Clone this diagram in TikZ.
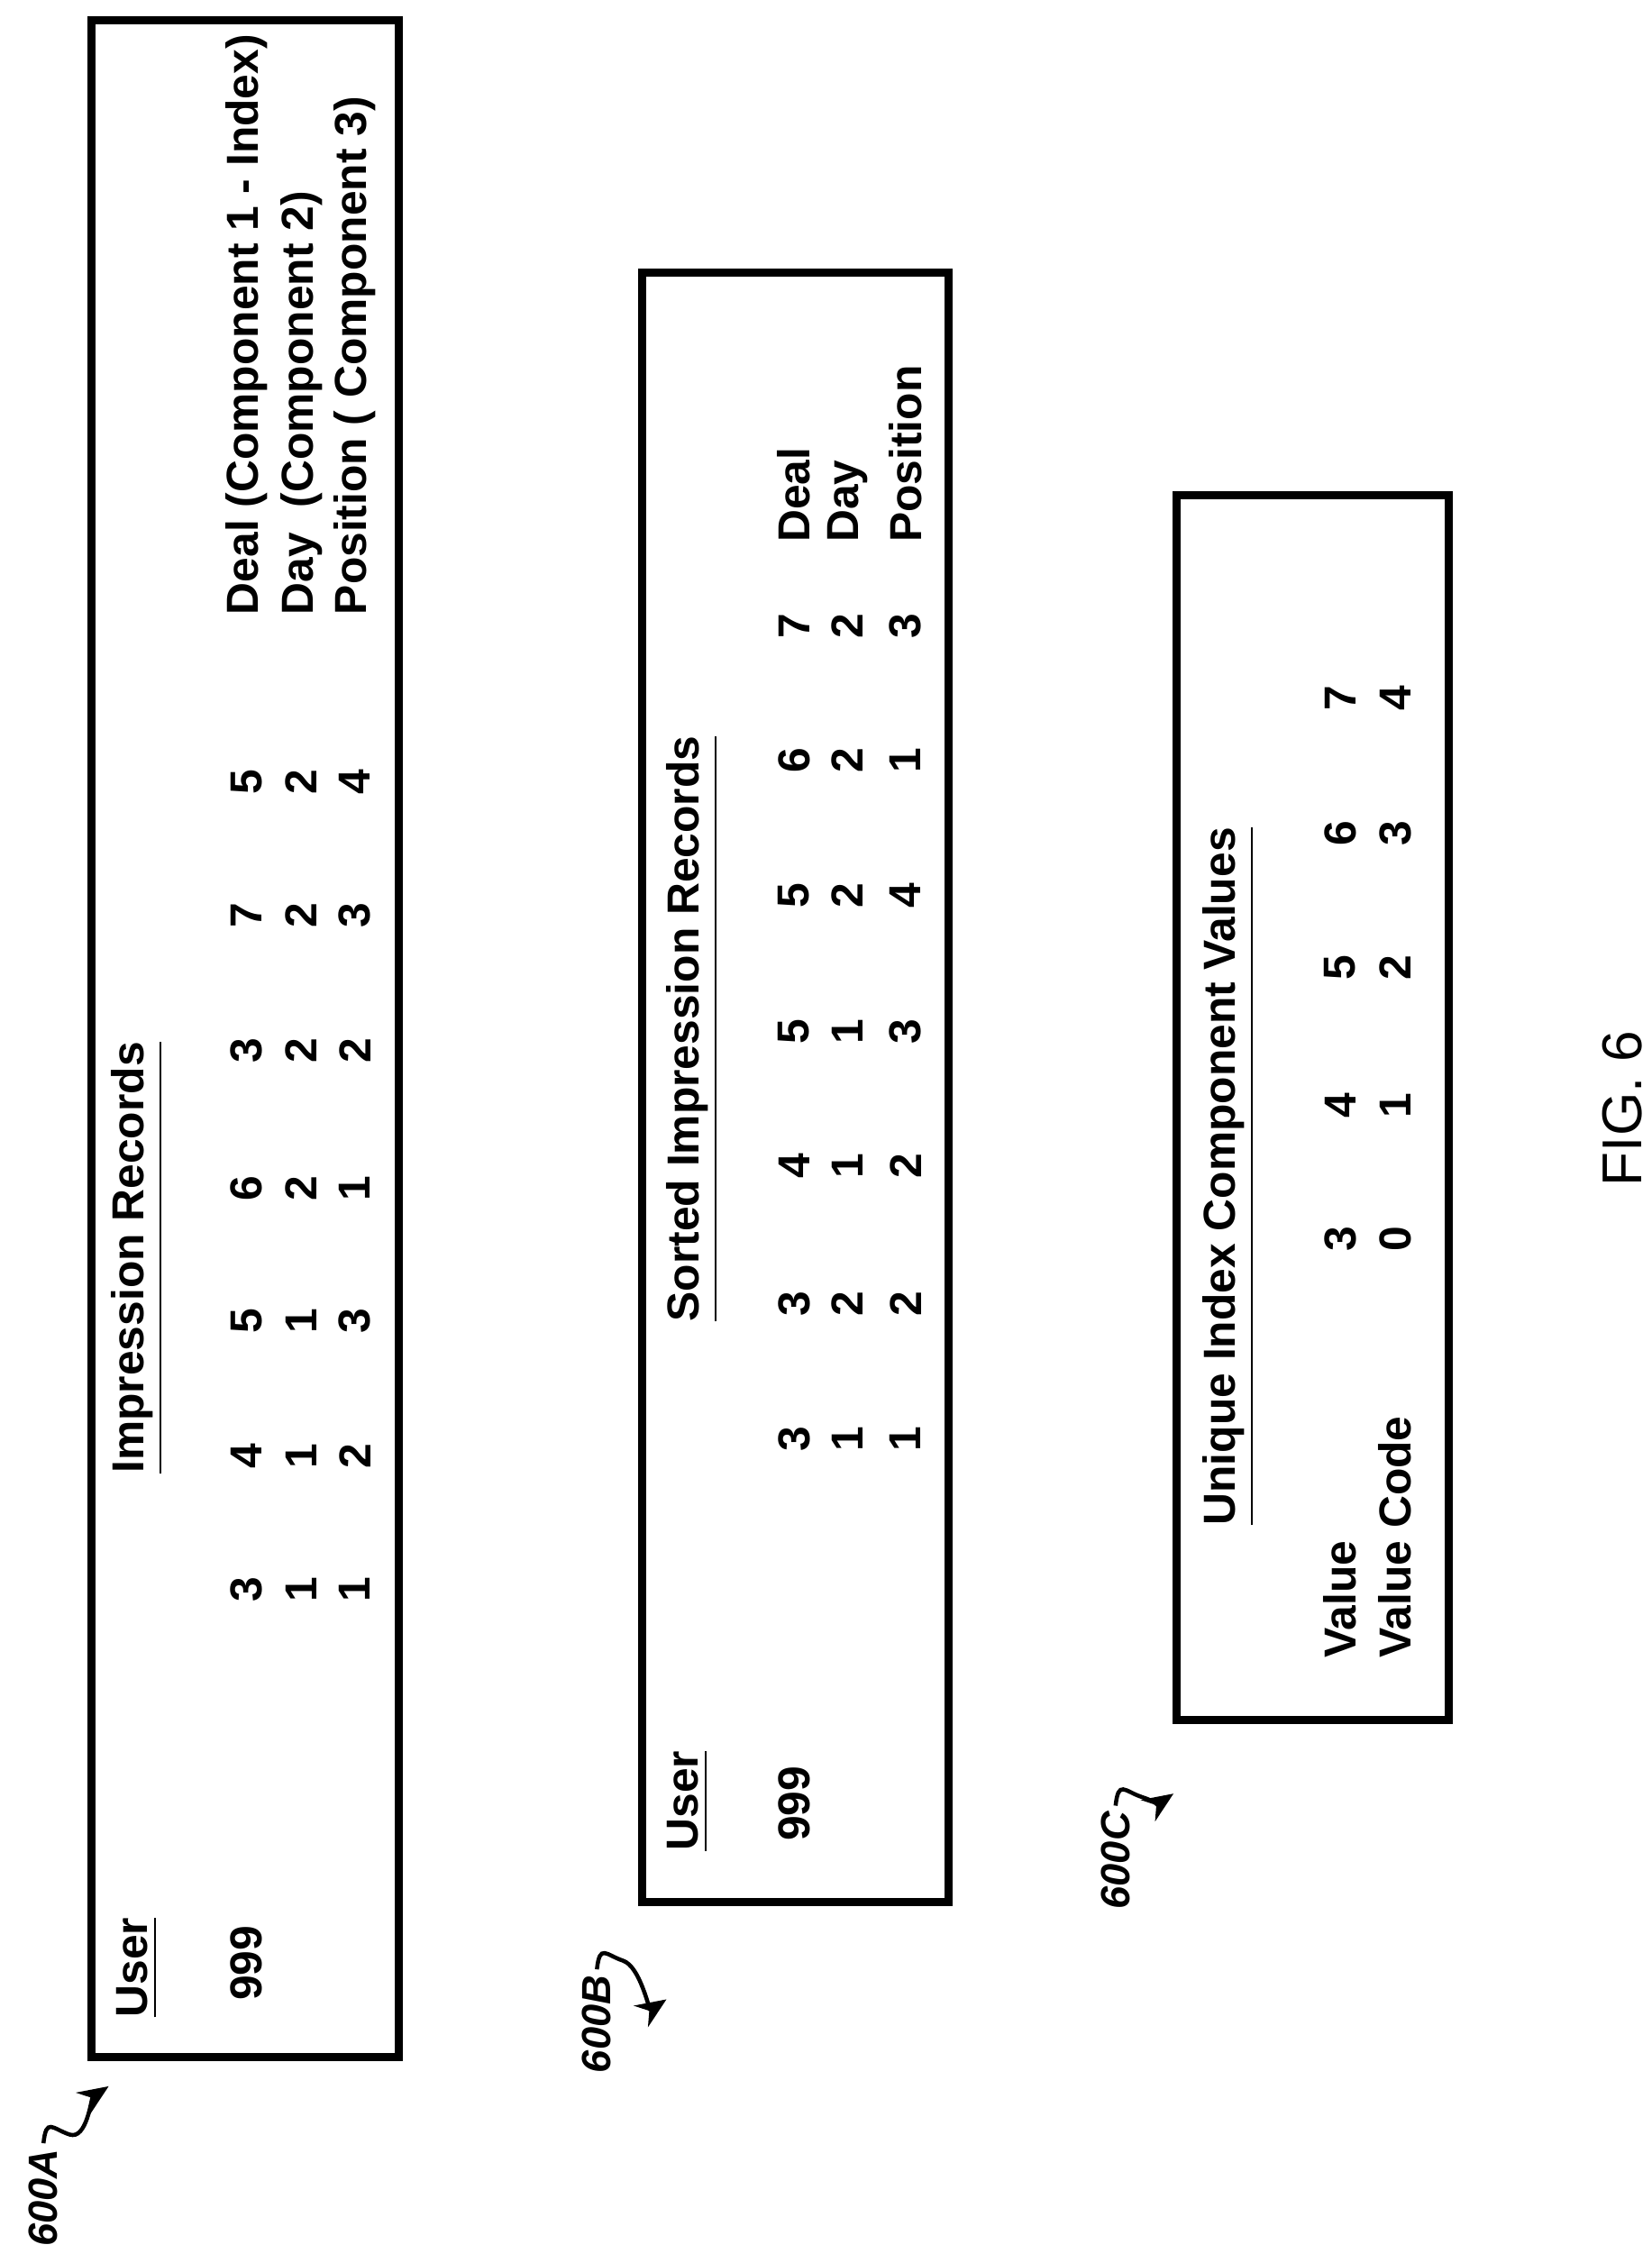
\documentclass[tikz,border=0pt]{standalone}
\usepackage{fontspec}
\setmainfont{Liberation Sans}
\usetikzlibrary{arrows.meta}

\tikzset{
	txt/.style={rotate=90,font=\bfseries\fontsize{8.8}{10}\selectfont,inner sep=0pt},
	lft/.style={txt,anchor=west},
	ref/.style={rotate=90,anchor=west,font=\bfseries\itshape\fontsize{8}{9}\selectfont,inner sep=1pt},
	squig/.style={-{Stealth[length=6pt,width=5pt]},line width=0.8pt},
	box/.style={line width=1.6pt}
}

\begin{document}
\begin{tikzpicture}[x=0.01cm,y=-0.01cm]
	\useasboundingbox (0,0) rectangle (1140,1562);

	% boxes
	\draw[box] (63,14) rectangle (275,1420);
	\draw[box] (443,188) rectangle (655,1313);
	\draw[box] (812,342) rectangle (1000,1187);

	% 600A
	\node[txt] (userA) at (95,1358) {\underline{User}};
	\node[txt] (titleA) at (95,868) {\underline{Impression Records}};
	\node[txt] (idA) at (170,1355) {999};
	\foreach \y/\a/\b/\c [count=\i] in {1097/3/1/1,1005/4/1/2,912/5/1/3,820/6/2/1,725/3/2/2,632/7/2/3,540/5/2/4} {
		\node[txt] (a1\i) at (170,\y) {\a};
		\node[txt] (a2\i) at (208,\y) {\b};
		\node[txt] (a3\i) at (245,\y) {\c};
	}
	\node[lft] (dealA) at (170,425) {Deal (Component 1 - Index)};
	\node[lft] (dayA) at (208,425) {Day\ \ (Component 2)};
	\node[lft] (posA) at (245,425) {Position ( Component 3)};

	% 600B
	\node[txt] (userB) at (475,1243) {\underline{User}};
	\node[txt] (titleB) at (478,710) {\underline{Sorted Impression Records}};
	\node[txt] (idB) at (548,1245) {999};
	\foreach \y/\a/\b/\c [count=\i] in {993/3/1/1,900/3/2/2,805/4/1/2,712/5/1/3,618/5/2/4,525/6/2/1,432/7/2/3} {
		\node[txt] (b1\i) at (548,\y) {\a};
		\node[txt] (b2\i) at (585,\y) {\b};
		\node[txt] (b3\i) at (625,\y) {\c};
	}
	\node[lft] (dealB) at (548,375) {Deal};
	\node[lft] (dayB) at (585,375) {Day};
	\node[lft] (posB) at (625,375) {Position};

	% 600C
	\node[txt] (titleC) at (848,812) {\underline{Unique Index Component Values}};
	\node[lft] (valC) at (925,1145) {Value};
	\node[lft] (codeC) at (963,1145) {Value Code};
	\foreach \y/\a/\b [count=\i] in {855/3/0,763/4/1,668/5/2,575/6/3,482/7/4} {
		\node[txt] (c1\i) at (925,\y) {\a};
		\node[txt] (c2\i) at (963,\y) {\b};
	}

	% reference labels
	\node[ref] (labA) at (30,1555) {600A};
	\node[ref] (labB) at (412,1435) {600B};
	\node[ref] (labC) at (770,1322) {600C};
	\coordinate (tipA) at (75,1440);
	\coordinate (tipB) at (460,1380);
	\coordinate (tipC) at (810,1238);
	\draw[squig] (labA.east) .. controls +(2,-18) and +(-12,-4) .. ++(18,-6) .. controls +(12,4) and +(-12,8) .. (tipA);
	\draw[squig] (labB.east) .. controls +(2,-18) and +(-12,-4) .. ++(18,-6) .. controls +(12,4) and +(-12,8) .. (tipB);
	\draw[squig] (labC.east) .. controls +(2,-18) and +(-12,-4) .. ++(18,-6) .. controls +(12,4) and +(-12,8) .. (tipC);

	\node[rotate=90,font=\fontsize{11}{13}\selectfont] (fig) at (1120,765) {FIG. 6};
\end{tikzpicture}
\end{document}
